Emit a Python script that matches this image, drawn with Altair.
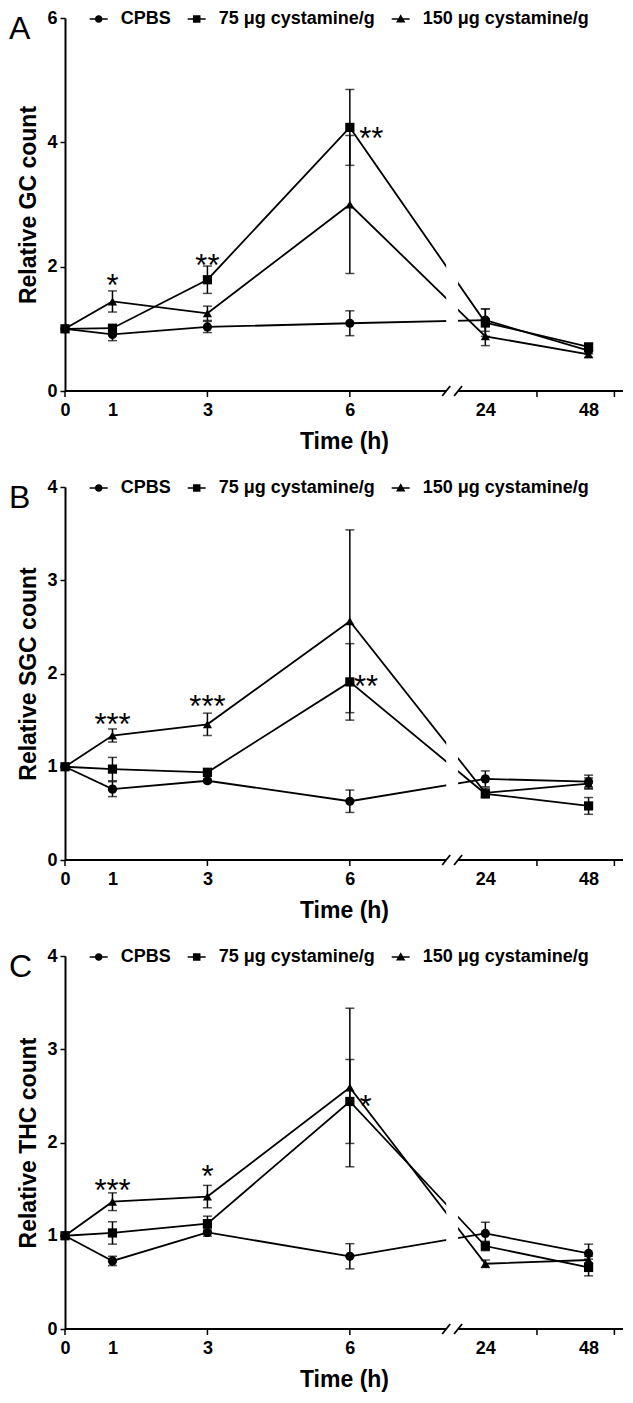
import altair as alt
import pandas as pd

# ---------------- data ----------------
TIMES = [0, 1, 3, 6, 24, 48]
SERIES = ["CPBS", "75 \u03bcg cystamine/g", "150 \u03bcg cystamine/g"]

# Panel A - Relative GC count
A_CPBS = [1.00, 0.91, 1.03, 1.09, 1.14, 0.65]
A_CPBS_SEM = [0.00, 0.10, 0.09, 0.20, 0.18, 0.05]
A_75 = [1.00, 1.01, 1.79, 4.24, 1.10, 0.71]
A_75_SEM = [0.00, 0.05, 0.22, 0.61, 0.22, 0.04]
A_150 = [1.00, 1.44, 1.25, 3.00, 0.88, 0.59]
A_150_SEM = [0.00, 0.17, 0.115, 1.11, 0.15, 0.05]

# Panel B - Relative SGC count
B_CPBS = [1.00, 0.76, 0.85, 0.63, 0.87, 0.84]
B_CPBS_SEM = [0.00, 0.08, 0.02, 0.12, 0.085, 0.07]
B_75 = [1.00, 0.975, 0.94, 1.91, 0.71, 0.58]
B_75_SEM = [0.00, 0.125, 0.04, 0.41, 0.04, 0.09]
B_150 = [1.00, 1.335, 1.455, 2.56, 0.72, 0.82]
B_150_SEM = [0.00, 0.07, 0.12, 0.98, 0.05, 0.06]

# Panel C - Relative THC count
C_CPBS = [1.00, 0.73, 1.035, 0.78, 1.025, 0.81]
C_CPBS_SEM = [0.00, 0.05, 0.04, 0.135, 0.12, 0.10]
C_75 = [1.00, 1.03, 1.13, 2.44, 0.89, 0.66]
C_75_SEM = [0.00, 0.12, 0.08, 0.45, 0.05, 0.09]
C_150 = [1.00, 1.365, 1.42, 2.59, 0.70, 0.74]
C_150_SEM = [0.00, 0.095, 0.12, 0.85, 0.04, 0.04]

# significance marks (time, value, text)
A_STAR_T = [1, 3, 6.45]
A_STAR_V = [1.80, 2.12, 4.16]
A_STAR_TXT = ["*", "**", "**"]
B_STAR_T = [1, 3, 6.34]
B_STAR_V = [1.52, 1.72, 1.93]
B_STAR_TXT = ["***", "***", "**"]
C_STAR_T = [1, 3, 6.33]
C_STAR_V = [1.55, 1.70, 2.46]
C_STAR_TXT = ["***", "*", "*"]

X_LABELS = [0, 1, 3, 6, 24, 48]
X_TICKS = [0, 3, 6, 36, 54]
Y_TICKS_A = [0, 2, 4, 6]
Y_TICKS_BC = [0, 1, 2, 3, 4]
BREAK = [8.03, 17.66]

# ---------------- layout / style ----------------
FONT = "Liberation Sans"
W = 558
H = 373
k = W / 565.0
X_DOMAIN = [0, BREAK[0], BREAK[1], 56]
X_RANGE = [0, 386 * k, 398 * k, W]

POINT_SHAPES = ["circle", "square", "triangle-up"]
BAR = "M-1,-0.085H1V0.085H-1Z"
LEGEND_SHAPES = [
    BAR + "M-0.42,0A0.42,0.42 0 1,1 0.42,0A0.42,0.42 0 1,1 -0.42,0Z",
    BAR + "M-0.42,-0.42H0.42V0.42H-0.42Z",
    BAR + "M0,-0.52L0.52,0.4H-0.52Z",
]

xscale = alt.Scale(domain=X_DOMAIN, range=X_RANGE, nice=False, zero=False)
xaxis = alt.Axis(values=X_LABELS, title="Time (h)", ticks=False, tickSize=0, domain=False,
                 grid=False, labelFontSize=18, labelFontWeight="bold", labelColor="black",
                 labelPadding=10, labelFlush=False, labelOverlap=False, format="d",
                 titleFontSize=23, titleFontWeight="bold", titleColor="black", titlePadding=11)


def X(field):
    return alt.X(field, type="quantitative", scale=xscale, axis=xaxis)


def panel(letter, ytitle, ymax, yticks, vals, sems, star_t, star_v, star_txt):
    rows = []
    for s, m, e in zip(SERIES, vals, sems):
        for t, mv, ev in zip(TIMES, m, e):
            rows.append(dict(series=s, time=t, mean=mv, lo=mv - ev, hi=mv + ev, err=ev))
    df = pd.DataFrame(rows)

    yscale = alt.Scale(domain=[0, ymax], nice=False, zero=False)
    yaxis = alt.Axis(values=yticks, title=ytitle, grid=False, format="d",
                     labelFontSize=18, labelFontWeight="bold", labelColor="black", labelPadding=3,
                     tickSize=5, tickWidth=1.5, tickColor="black",
                     domainColor="black", domainWidth=2,
                     titleFontSize=23, titleFontWeight="bold", titleColor="black", titlePadding=6)

    def Y(field):
        return alt.Y(field, type="quantitative", scale=yscale, axis=yaxis)

    base = alt.Chart(df)
    lines = base.mark_line(color="black", strokeWidth=1.8).encode(
        x=X("time"), y=Y("mean"), detail="series:N")
    ebase = base.transform_filter("datum.err > 0")
    erule = ebase.mark_rule(color="black", strokeWidth=1.5).encode(
        x=X("time"), y=Y("lo"), y2="hi:Q")
    cap_lo = ebase.mark_tick(color="black", orient="horizontal", size=9, thickness=1.5).encode(
        x=X("time"), y=Y("lo"))
    cap_hi = ebase.mark_tick(color="black", orient="horizontal", size=9, thickness=1.5).encode(
        x=X("time"), y=Y("hi"))

    gap = alt.Chart(pd.DataFrame({"time": [BREAK[0]], "time2": [BREAK[1]]})).mark_rect(
        color="white").encode(x=X("time"), x2="time2:Q", y=alt.value(0), y2=alt.value(H))

    points = base.mark_point(filled=True, color="black", size=85, opacity=1).encode(
        x=X("time"), y=Y("mean"),
        shape=alt.Shape("series:N", scale=alt.Scale(domain=SERIES, range=POINT_SHAPES), legend=None))

    legend = alt.Legend(orient="none", legendX=24 * k, legendY=-9, direction="horizontal",
                        title=None, labelFontSize=18, labelFontWeight="bold", labelFont=FONT,
                        labelColor="black", labelLimit=400, symbolSize=324,
                        symbolFillColor="black", symbolOpacity=1,
                        labelOffset=12, columnPadding=13)
    legend_layer = base.transform_filter("datum.time < 0").mark_point(
        filled=True, color="black", opacity=1).encode(
        x=X("time"), y=Y("mean"),
        shape=alt.Shape("series:N", scale=alt.Scale(domain=SERIES, range=LEGEND_SHAPES), legend=legend))

    seg = alt.Chart(pd.DataFrame({"time": [0, BREAK[1]], "time2": [BREAK[0], 56]})).mark_rule(
        color="black", strokeWidth=2).encode(x=X("time"), x2="time2:Q", y=alt.value(H))
    slashes = alt.Chart(pd.DataFrame({"time": BREAK})).mark_rule(
        color="black", strokeWidth=1.8, xOffset=-4, x2Offset=4).encode(
        x=X("time"), x2="time:Q", y=alt.value(H + 5), y2=alt.value(H - 5))
    ticks = alt.Chart(pd.DataFrame({"time": X_TICKS})).mark_rule(
        color="black", strokeWidth=1.5).encode(x=X("time"), y=alt.value(H), y2=alt.value(H + 6))

    stars = alt.Chart(pd.DataFrame({"time": star_t, "val": star_v, "txt": star_txt})).mark_text(
        font=FONT, fontSize=31, color="black", align="center", baseline="alphabetic", dy=17).encode(
        x=X("time"), y=Y("val"), text="txt:N")

    letter_layer = alt.Chart(pd.DataFrame({"letter": [letter]})).mark_text(
        font=FONT, fontSize=32, color="black", align="left", baseline="top").encode(
        text="letter:N", x=alt.value(-56), y=alt.value(-4))

    return alt.layer(lines, erule, cap_lo, cap_hi, gap, points, legend_layer, seg, slashes,
                     ticks, stars, letter_layer).resolve_scale(shape="independent").properties(
        width=W, height=H)


pA = panel("A", "Relative GC count", 6, Y_TICKS_A,
           [A_CPBS, A_75, A_150], [A_CPBS_SEM, A_75_SEM, A_150_SEM],
           A_STAR_T, A_STAR_V, A_STAR_TXT)
pB = panel("B", "Relative SGC count", 4, Y_TICKS_BC,
           [B_CPBS, B_75, B_150], [B_CPBS_SEM, B_75_SEM, B_150_SEM],
           B_STAR_T, B_STAR_V, B_STAR_TXT)
pC = panel("C", "Relative THC count", 4, Y_TICKS_BC,
           [C_CPBS, C_75, C_150], [C_CPBS_SEM, C_75_SEM, C_150_SEM],
           C_STAR_T, C_STAR_V, C_STAR_TXT)

chart = alt.vconcat(pA, pB, pC, spacing=96, bounds="flush", padding=0).configure_view(
    stroke="transparent").configure_axis(labelFont=FONT, titleFont=FONT)

chart.save("out.html", embed_options={"renderer": "svg", "actions": False})
